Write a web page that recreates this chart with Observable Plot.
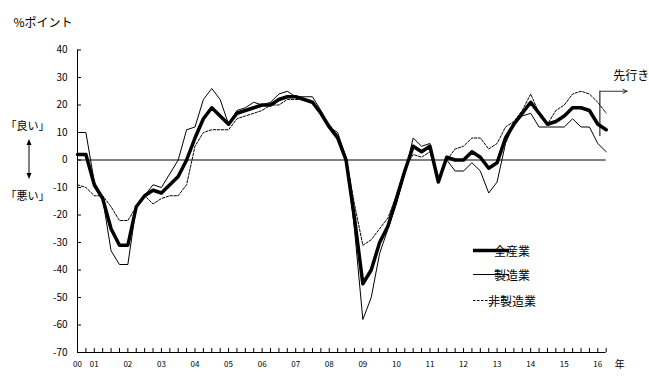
<!DOCTYPE html>
<html>
<head>
<meta charset="utf-8">
<script src="https://cdn.jsdelivr.net/npm/d3@7"></script>
<script src="https://cdn.jsdelivr.net/npm/@observablehq/plot@0.6"></script>
<style>
  html, body { margin: 0; padding: 0; background: #fff; }
  #chart { width: 649px; height: 384px; }
  svg { overflow: visible; }
</style>
</head>
<body>
<div id="chart"></div>
<script>
// quarterly index: 0 = 2000 Q3 ... 62 = 2016 Q1, 63 = forecast
const quarters = d3.range(64);

const allIndustries = [
  2, 2, -9, -14, -25, -31, -31, -17, -13, -11, -12, -9, -6, 0, 8, 15,
  19, 16, 13, 17, 18, 19, 20, 20, 22, 23, 23, 22, 21, 17, 12, 8,
  0, -21, -45, -40, -30, -24, -14, -4, 5, 3, 5, -8, 1, 0, 0, 3,
  1, -3, -1, 8, 13, 17, 21, 17, 13, 14, 16, 19, 19, 18, 13, 11
];
const manufacturing = [
  10, 10, -8, -14, -33, -38, -38, -17, -13, -9, -10, -5, 0, 11, 12, 22,
  26, 22, 13, 18, 19, 21, 20, 21, 24, 25, 23, 23, 23, 18, 12, 10,
  1, -25, -58, -50, -34, -25, -16, -5, 8, 5, 6, -8, 0, -4, -4, -1,
  -4, -12, -8, 6, 13, 16, 17, 12, 12, 12, 12, 15, 12, 12, 6, 3
];
const nonManufacturing = [
  -9, -10, -13, -13, -17, -22, -22, -17, -13, -16, -14, -13, -13, -9, 5, 10,
  11, 11, 11, 15, 16, 17, 18, 20, 20, 22, 22, 22, 21, 17, 13, 9,
  1, -16, -31, -29, -25, -21, -13, -3, 2, 1, 3, -7, 0, 4, 5, 8,
  8, 4, 6, 12, 14, 18, 24, 17, 13, 18, 20, 24, 25, 24, 21, 17
];

const yTickValues = [40, 30, 20, 10, 0, -10, -20, -30, -40, -50, -60, -70];
const xTickLabels = ["00","01","02","03","04","05","06","07","08","09","10","11","12","13","14","15","16"];
const xTickLabelQuarter = [0, 2, 6, 10, 14, 18, 22, 26, 30, 34, 38, 42, 46, 50, 54, 58, 62];
const seriesLabels = ["全産業", "製造業", "非製造業"];
const forecastMarker = { x: 62.25, yBottom: 8.5, yTop: 25, arrowEnd: 65.5 };

const W = 649, H = 384;
const mL = 77, mR = 43.3, mT = 49.5, mB = 32;
const plotW = W - mL - mR, plotH = H - mT - mB;
const FONT = "'Noto Sans CJK JP', 'Noto Sans', sans-serif";

const chart = Plot.plot({
  width: W,
  height: H,
  marginLeft: mL, marginRight: mR, marginTop: mT, marginBottom: mB,
  x: { type: "linear", domain: [0, 63], axis: null, label: null },
  y: { type: "linear", domain: [-70, 40], axis: null, label: null },
  style: { fontFamily: FONT, background: "#fff", color: "#000", overflow: "visible" },
  marks: [
    // y tick labels
    Plot.axisY(yTickValues, { anchor: "left", label: null, tickSize: 0, tickPadding: 10, tickFormat: d => String(d), fontSize: 10, fill: "#000" }),
    // inward y ticks
    Plot.tickY(yTickValues, { y: d => d, insetRight: plotW - 4, stroke: "#000", strokeWidth: 1 }),
    // inward x ticks (quarters)
    Plot.tickX(quarters, { x: d => d, insetTop: plotH - 4, stroke: "#000", strokeWidth: 1 }),
    // x labels
    Plot.text(xTickLabelQuarter, { x: d => d, text: (d, i) => xTickLabels[i], frameAnchor: "bottom", lineAnchor: "middle", dy: 12, fontSize: 8, fill: "#000" }),
    // axes lines
    Plot.ruleX([0], { stroke: "#000", strokeWidth: 1 }),
    Plot.ruleY([-70], { stroke: "#000", strokeWidth: 1 }),
    Plot.ruleY([0], { stroke: "#000", strokeWidth: 1 }),
    // series
    Plot.line(quarters, { x: d => d, y: i => nonManufacturing[i], stroke: "#000", strokeWidth: 1, strokeDasharray: "2.5,1.5" }),
    Plot.line(quarters, { x: d => d, y: i => manufacturing[i], stroke: "#000", strokeWidth: 1 }),
    Plot.line(quarters, { x: d => d, y: i => allIndustries[i], stroke: "#000", strokeWidth: 3.5 }),
    // forecast marker
    Plot.ruleX([forecastMarker.x], { y1: forecastMarker.yBottom, y2: forecastMarker.yTop, stroke: "#000", strokeWidth: 1 }),
    Plot.arrow([forecastMarker], { x1: d => d.x, y1: d => d.yTop, x2: d => d.arrowEnd, y2: d => d.yTop, stroke: "#333", strokeWidth: 1, headLength: 7, headAngle: 50, clip: false }),
    Plot.text(["先行き"], { frameAnchor: "top-right", textAnchor: "middle", lineAnchor: "middle", dx: 25, dy: 26.5, fontSize: 12, fill: "#000" }),
    // unit and axis annotations
    Plot.text(["%ポイント"], { frameAnchor: "top-left", textAnchor: "start", lineAnchor: "middle", dx: -64, dy: -26.5, fontSize: 12, fill: "#000" }),
    Plot.text(["「良い」"], { frameAnchor: "top-left", textAnchor: "middle", lineAnchor: "middle", dx: -50, dy: 76.5, fontSize: 11, fill: "#000" }),
    Plot.text(["「悪い」"], { frameAnchor: "top-left", textAnchor: "middle", lineAnchor: "middle", dx: -50, dy: 146, fontSize: 11, fill: "#000" }),
    Plot.text(["年"], { frameAnchor: "bottom-right", textAnchor: "middle", lineAnchor: "middle", dx: 13.5, dy: 12, fontSize: 10, fill: "#000" })
  ]
});

document.getElementById("chart").appendChild(chart);

// decorations: double-headed arrow and legend
const svg = d3.select(chart);
const deco = svg.append("g");
deco.append("line").attr("x1", 29).attr("x2", 29).attr("y1", 143).attr("y2", 175).attr("stroke", "#000").attr("stroke-width", 1);
deco.append("path").attr("d", "M29,139 L26.5,145 L31.5,145 Z").attr("fill", "#000");
deco.append("path").attr("d", "M29,179 L26.5,173 L31.5,173 Z").attr("fill", "#000");

const legendY = [250.5, 274.5, 300.5];
const legendStyles = [
  { w: 3.5, dash: null },
  { w: 1, dash: null },
  { w: 1, dash: "2.5,1.5" }
];
seriesLabels.forEach((label, k) => {
  const g = deco.append("g");
  const ln = g.append("line").attr("x1", 473).attr("x2", 509).attr("y1", legendY[k]).attr("y2", legendY[k])
    .attr("stroke", "#000").attr("stroke-width", legendStyles[k].w);
  if (legendStyles[k].dash) ln.attr("stroke-dasharray", legendStyles[k].dash);
  g.append("text").attr("x", 512).attr("y", legendY[k]).attr("dominant-baseline", "central")
    .attr("font-family", FONT).attr("font-size", 12).attr("fill", "#000").text(label);
});
</script>
</body>
</html>
